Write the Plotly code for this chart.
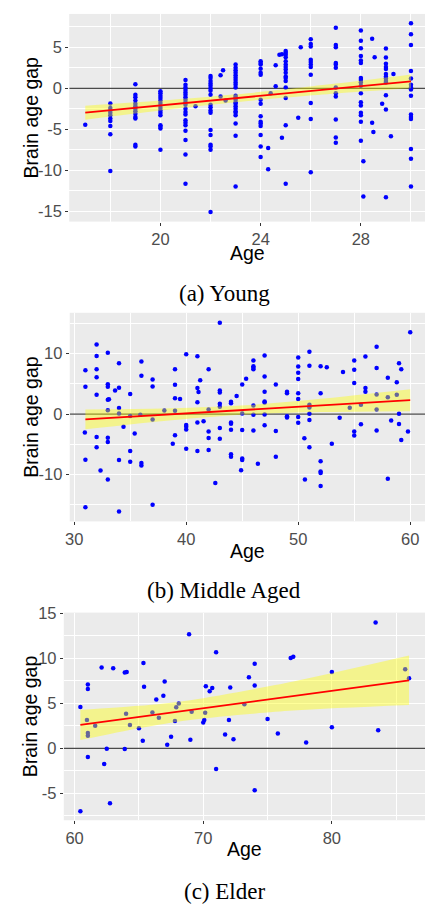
import numpy as np
import plotly.graph_objects as go

# ---------------- data ----------------
young_age = (
    [17.0]
    + [18.0] * 10
    + [19.0] * 13
    + [20.0] * 15
    + [21.0] * 20 + [21.4]
    + [22.0] * 18 + [22.4, 22.4, 22.5, 22.6]
    + [23.0] * 23
    + [24.0] * 15 + [24.3, 24.3, 24.4, 24.6, 24.6, 24.75, 24.85, 24.85]
    + [25.0] * 16 + [25.5, 25.6]
    + [26.0] * 11
    + [27.0] * 12
    + [28.0] * 17 + [28.1, 28.1, 28.45, 28.45, 28.55, 28.5, 28.85]
    + [29.0] * 13 + [29.2, 29.3]
    + [30.0] * 15
)
young_gap = (
    [-4.44]
    + [-1.85, -2.4, -2.7, -3.0, -3.3, -3.7, -4.0, -4.6, -5.6, -10.1]
    + [0.5, -0.8, -1.1, -1.5, -1.9, -2.2, -2.5, -2.8, -3.1, -3.5, -3.7, -6.9, -7.1]
    + [-0.36, -0.6, -0.9, -1.2, -1.5, -1.8, -2.1, -2.4, -2.7, -3.0, -3.3, -4.5, -4.7, -4.9, -7.5]
    + [1.0, 0.44, 0.1, -0.2, -0.5, -0.8, -1.1, -1.4, -1.7, -2.0,
       -2.5, -2.9, -3.2, -3.9, -4.2, -4.5, -5.2, -6.3, -8.1, -11.65] + [-2.2]
    + [1.5, 1.25, 0.9, 0.6, 0.3, 0.0, -0.3, -0.8, -2.0, -2.3,
       -2.7, -3.0, -5.1, -5.7, -6.9, -7.1, -7.5, -15.1] + [1.6, -1.0, 2.2, -1.5]
    + [2.9, 2.5, 2.2, 1.9, 1.6, 1.3, 1.0, 0.7, 0.44, 0.1,
       -0.9, -1.1, -1.4, -1.7, -1.9, -2.2, -2.5, -2.8, -3.0, -3.3, -4.3, -5.8, -12.0]
    + [3.3, 3.1, 2.9, 2.4, 1.9, 1.65, -1.4, -1.9, -3.4, -4.1, -4.3, -4.6, -5.7, -7.1, -8.4]
    + [-7.3, -9.9, -0.6, 2.8, 0.24, 4.1, 4.15, -6.05]
    + [4.55, 4.35, 4.1, 3.8, 3.3, 2.9, 2.6, 2.3, 1.9, 1.45, 1.25, 0.9, 0.1, -1.2, -4.5, -11.65]
    + [-3.6, 5.0]
    + [6.0, 5.4, 5.1, 3.5, 3.2, 2.9, 2.6, 1.65, -1.8, -3.75, -10.25]
    + [7.4, 5.3, 5.0, 3.1, 2.9, 2.5, 0.1, -0.6, -1.0, -3.8, -6.0, -6.65]
    + [7.05, 5.8, 4.9, 3.95, 3.4, 3.1, 1.25, 1.0, 0.7, 0.3, -0.6, -1.7, -2.1, -3.0, -3.3, -4.1, -6.4]
    + [-8.9, -13.2, 6.05, -4.2, 3.8, -5.35, -1.9]
    + [4.85, 3.75, 3.0, 2.6, 2.35, 1.75, 1.4, 1.2, 0.9, 0.7, -0.85, -2.6, -13.3]
    + [-5.85, 1.75]
    + [7.95, 6.6, 5.3, 2.1, 1.2, 0.44, 0.1, -0.15, -0.9, -3.2, -3.5, -3.75, -7.4, -8.6, -12.0]
)

mid_age = (
    [31.0] * 4 + [30.95]
    + [32.0] * 7 + [32.35]
    + [33.0] * 8 + [33.1, 33.65]
    + [34.0] * 6 + [34.4]
    + [35.0] * 4 + [35.4, 35.9]
    + [36.0] * 4
    + [37.0] * 4
    + [38.05, 38.8]
    + [39.0] * 5 + [39.45]
    + [40.0] * 5
    + [41.0] * 5 + [41.1, 41.25, 41.55]
    + [42.0] * 5 + [42.6]
    + [43.0] * 7
    + [44.0] * 7 + [44.5]
    + [45.0] * 5 + [44.9, 45.35]
    + [46.0] * 7 + [46.4]
    + [47.0] * 7
    + [48.0] * 3
    + [49.0] * 4
    + [50.0] * 8 + [50.55, 50.6]
    + [51.0] * 7
    + [52.0] * 6 + [52.55]
    + [53.0, 53.7, 54.0, 54.6]
    + [55.0] * 5 + [55.6, 55.6]
    + [56.0] * 3
    + [57.0] * 5
    + [58.0] * 3 + [58.3, 58.8, 58.8]
    + [59.0] * 3 + [59.2, 59.2]
    + [60.0, 59.8]
)
mid_gap = (
    [7.25, 4.5, -7.55, -15.4] + [-3.05]
    + [11.5, 9.6, 7.4, 6.1, 3.2, -3.8, -5.5] + [-9.35]
    + [10.15, 4.95, 4.5, 2.35, 0.65, -3.9, -4.6, -10.8] + [2.45, 3.9]
    + [8.4, 4.35, 1.0, 0.1, -7.6, -16.1] + [-2.1]
    + [3.3, -0.3, -6.1, -7.9] + [-3.2, -0.1]
    + [8.7, 6.35, -8.1, -8.5]
    + [5.7, 4.55, -0.9, -15.0]
    + [0.6, -4.9]
    + [7.4, 4.85, 2.6, 0.55, -3.5] + [2.5]
    + [9.9, -1.8, -2.1, -2.55, -5.75]
    + [9.55, 4.3, 1.95, -1.4, -6.1] + [3.65, 5.6, -1.2]
    + [7.4, 0.75, -2.9, -3.95, -5.95] + [-11.4]
    + [15.1, 3.9, 3.55, 1.7, 1.2, -2.3, -4.1]
    + [2.05, 1.8, -1.4, -1.6, -2.6, -6.65, -7.05] + [3.0]
    + [4.9, 0.1, -2.65, -7.35, -7.6] + [-9.3, 5.85]
    + [8.85, 7.9, 7.65, 7.4, 1.4, -0.1, -2.7] + [-8.2]
    + [9.7, 6.2, 3.7, 2.1, 1.9, -0.05, -1.85]
    + [4.9, -2.8, -7.05]
    + [3.7, 3.45, -0.35, -0.55]
    + [9.35, 7.85, 6.85, 5.8, 3.45, 2.5, -0.5, -1.45] + [-4.0, -10.8]
    + [10.3, 8.0, 1.55, 1.1, 0.05, -1.0, -5.5]
    + [7.9, 3.45, -7.8, -9.5, -9.75, -11.9] + [7.75]
    + [-4.9, -0.6, 6.95, 1.05]
    + [8.85, 7.35, 5.15, -2.9, -3.55] + [1.55, -1.7]
    + [9.5, 4.3, 3.7]
    + [11.15, 7.6, 3.25, 0.75, -2.7]
    + [6.0, 2.8, -10.7] + [-1.05, 5.25, 3.2]
    + [8.4, 0.05, -1.65] + [7.4, -4.3]
    + [13.55, -2.9]
)

elder_age = [60.45, 60.45, 60.96, 61.03, 61.03, 61.03, 61.03, 61.03, 61.6, 62.1,
             62.3, 62.5, 62.75, 63.0, 63.9, 63.9, 64.05, 64.0, 64.3, 65.0,
             65.3, 65.35, 65.4, 66.05, 66.35, 66.55, 66.9, 67.0, 67.2, 67.5,
             67.8, 67.9, 68.1, 68.9, 69.0, 69.1, 70.0, 70.08, 70.15, 70.2,
             70.5, 70.7, 71.0, 71.0, 71.7, 72.0, 72.1, 72.35, 73.2, 73.55,
             74.0, 74.0, 74.0, 75.0, 75.8, 76.8, 77.0, 78.0, 80.0, 80.0,
             83.4, 83.6, 85.7, 86.0]
elder_gap = [4.6, -7.0, 3.16, 7.1, 6.6, 1.7, 1.4, -0.96, 2.5, 9.0,
             -1.73, -0.04, -6.1, 8.9, 8.45, -0.07, 8.5, 3.86, 2.6, 2.24,
             0.85, 9.5, 6.84, 4.0, 5.44, 3.4, 5.85, 7.43, 0.4, 1.3,
             3.05, 4.56, 5.0, 12.7, 0.95, 4.08, 2.87, 3.16, 3.97, 6.9,
             6.36, 6.7, 10.7, -2.3, 1.54, 3.16, 6.76, 1.0, 4.9, 7.9,
             9.4, 7.0, -4.67, 3.27, 1.65, 10.04, 10.2, 0.66, 8.5, 2.35,
             14.0, 2.0, 8.8, 7.8]

# linear-fit line and its 95% band at a few ages
young_fit_age = [17, 20, 23.5, 27, 30]
young_fit_mid = [-2.98, -2.10, -1.07, -0.03, 0.85]
young_fit_hi = [-2.13, -1.50, -0.60, 0.575, 1.70]
young_fit_lo = [-3.83, -2.70, -1.54, -0.635, 0.0]

mid_fit_age = [31, 38, 44.5, 52, 60]
mid_fit_mid = [-0.87, -0.105, 0.606, 1.43, 2.30]
mid_fit_hi = [0.76, 0.92, 1.36, 2.53, 4.12]
mid_fit_lo = [-2.50, -1.13, -0.14, 0.33, 0.48]

elder_fit_age = [60.45, 65, 69, 77, 86]
elder_fit_mid = [2.60, 3.485, 4.263, 5.82, 7.57]
elder_fit_hi = [4.28, 4.735, 5.363, 7.438, 10.32]
elder_fit_lo = [0.92, 2.235, 3.163, 4.202, 4.82]

captions = ["(a) Young", "(b) Middle Aged", "(c) Elder"]
x_title = "Age"
y_title = "Brain age gap"

x_ticks = [[20, 24, 28], [30, 40, 50, 60], [60, 70, 80]]
x_minor = [[18, 22, 26, 30], [35, 45, 55], [65, 75, 85]]
y_ticks = [[-15, -10, -5, 0, 5], [-10, 0, 10], [-5, 0, 5, 10, 15]]
y_minor = [[-12.5, -7.5, -2.5, 2.5, 7.5], [-15, -5, 5, 15], [-7.5, -2.5, 2.5, 7.5, 12.5]]

assert len(young_age) == len(young_gap)
assert len(mid_age) == len(mid_gap)
assert len(elder_age) == len(elder_gap)

# ---------------- layout geometry (pixels) ----------------
W, H = 425, 905
panels = [
    dict(pts=(young_age, young_gap),
         fit=(young_fit_age, young_fit_mid, young_fit_lo, young_fit_hi),
         px=(65, 425), py=(6, 215.5), xr=[16.36, 30.56], yr=[-16.28, 9.08],
         age_y=247, cap_y=288),
    dict(pts=(mid_age, mid_gap),
         fit=(mid_fit_age, mid_fit_mid, mid_fit_lo, mid_fit_hi),
         px=(65.5, 425), py=(307.5, 518), xr=[29.6, 61.32], yr=[-17.75, 16.75],
         age_y=548, cap_y=588),
    dict(pts=(elder_age, elder_gap),
         fit=(elder_fit_age, elder_fit_mid, elder_fit_lo, elder_fit_hi),
         px=(59.5, 425), py=(610, 819.5), xr=[59.16, 87.24], yr=[-8.0, 15.1],
         age_y=849, cap_y=891),
]

fig = go.Figure()
annotations = []
tick_font = dict(family="Liberation Sans, Arial, sans-serif", size=16.5, color="#4D4D4D")
title_font = dict(family="Liberation Sans, Arial, sans-serif", size=19.5, color="black")

for i, p in enumerate(panels):
    k = "" if i == 0 else str(i + 1)
    xa, ya = "x" + k, "y" + k
    ages, gaps = p["pts"]
    fa, fm, flo, fhi = p["fit"]

    # reference line at zero across the panel
    fig.add_trace(go.Scatter(x=p["xr"], y=[0, 0], mode="lines", xaxis=xa, yaxis=ya,
                             line=dict(color="#4A4A4A", width=1.3),
                             showlegend=False, hoverinfo="skip"))
    fig.add_trace(go.Scatter(x=ages, y=gaps, mode="markers", xaxis=xa, yaxis=ya,
                             marker=dict(color="#0000FF", size=4.5, line=dict(width=0)),
                             showlegend=False, hoverinfo="skip"))
    # confidence band: lower edge, then upper edge filled down to it
    fig.add_trace(go.Scatter(x=fa, y=flo, mode="lines",
                             line=dict(width=0, shape="spline", smoothing=0.8),
                             xaxis=xa, yaxis=ya, showlegend=False, hoverinfo="skip"))
    fig.add_trace(go.Scatter(x=fa, y=fhi, mode="lines", fill="tonexty",
                             fillcolor="rgba(255,255,0,0.4)",
                             line=dict(width=0, shape="spline", smoothing=0.8),
                             xaxis=xa, yaxis=ya, showlegend=False, hoverinfo="skip"))
    fig.add_trace(go.Scatter(x=fa, y=fm, mode="lines", line=dict(color="#FF0000", width=1.8),
                             xaxis=xa, yaxis=ya, showlegend=False, hoverinfo="skip"))

    x0, x1 = p["px"]
    y0, y1 = p["py"]
    axis_common = dict(showgrid=True, gridcolor="white", gridwidth=1.1, zeroline=False,
                       showline=False, ticks="outside", ticklen=3, tickwidth=1,
                       tickcolor="#333333", tickfont=tick_font, fixedrange=True)
    fig.layout["xaxis" + k] = dict(
        domain=[x0 / W, x1 / W], range=p["xr"], anchor=ya,
        tickmode="array", tickvals=x_ticks[i], ticktext=[str(v) for v in x_ticks[i]],
        minor=dict(tickvals=x_minor[i], showgrid=True, gridcolor="white", gridwidth=0.5, ticklen=0),
        **axis_common)
    fig.layout["yaxis" + k] = dict(
        domain=[1 - y1 / H, 1 - y0 / H], range=p["yr"], anchor=xa,
        tickmode="array", tickvals=y_ticks[i], ticktext=[str(v) for v in y_ticks[i]],
        minor=dict(tickvals=y_minor[i], showgrid=True, gridcolor="white", gridwidth=0.5, ticklen=0),
        **axis_common)

    annotations.append(dict(text=x_title, x=((x0 + x1) / 2) / W, y=1 - p["age_y"] / H,
                            xref="paper", yref="paper", showarrow=False,
                            xanchor="center", yanchor="middle", font=title_font))
    annotations.append(dict(text=y_title, x=26 / W, y=1 - ((y0 + y1) / 2) / H,
                            xref="paper", yref="paper", showarrow=False, textangle=-90,
                            xanchor="center", yanchor="middle", font=title_font))
    annotations.append(dict(text=captions[i], x=222 / W, y=1 - p["cap_y"] / H,
                            xref="paper", yref="paper", showarrow=False,
                            xanchor="center", yanchor="middle",
                            font=dict(family="Liberation Serif, Times New Roman, serif",
                                      size=23, color="black")))

fig.update_layout(width=W, height=H, margin=dict(l=0, r=0, t=0, b=0),
                  paper_bgcolor="white", plot_bgcolor="#EBEBEB",
                  annotations=annotations, showlegend=False)

pin_to_corner = (
    "document.documentElement.style.margin='0';"
    "document.body.style.margin='0';document.body.style.padding='0';"
    "document.body.style.overflow='hidden';"
    "var d=document.getElementById('{plot_id}');"
    "d.style.position='absolute';d.style.left='0px';d.style.top='0px';"
)
fig.write_html("out.html", config=dict(displayModeBar=False, responsive=False),
               post_script=pin_to_corner)
